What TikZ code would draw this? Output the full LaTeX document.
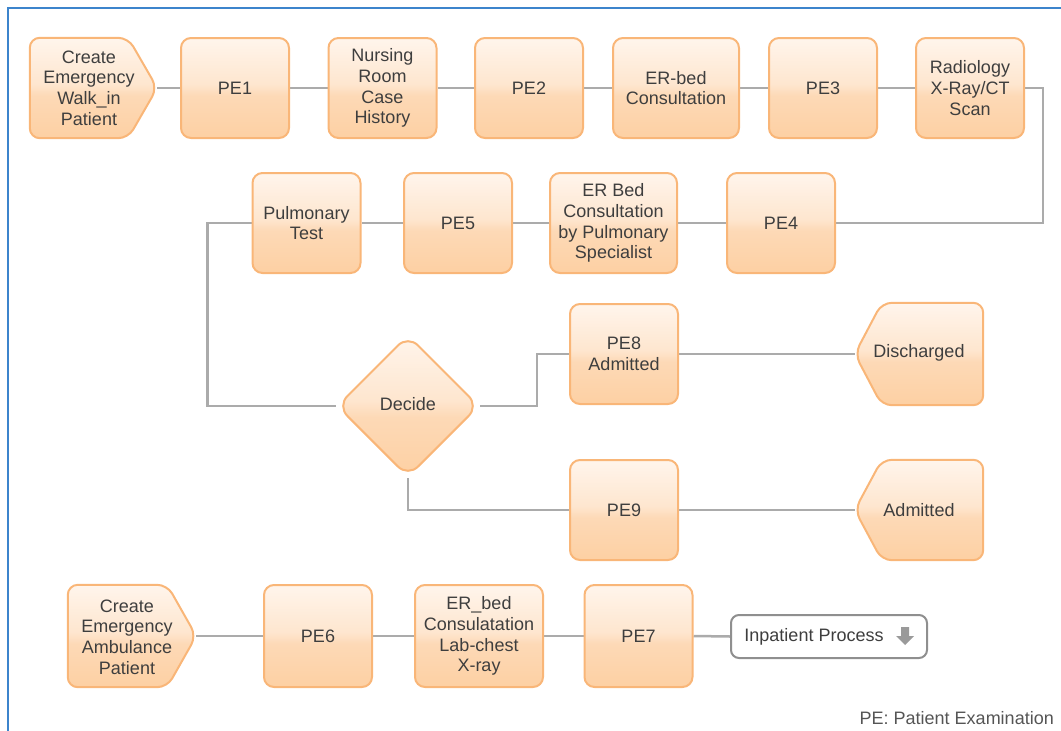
\documentclass[tikz,border=0pt]{standalone}
\usepackage{fontspec}
\setmainfont{Liberation Sans}
\usetikzlibrary{shapes.geometric,backgrounds,calc}

\definecolor{tileTop}{HTML}{FFF5EC}
\definecolor{tileMid}{HTML}{FEE6CF}
\definecolor{tileLow}{HTML}{FDD9B6}
\definecolor{tileBot}{HTML}{FDD0A3}
\definecolor{tileEdge}{HTML}{F9B678}
\definecolor{wire}{HTML}{ABABAB}
\definecolor{ink}{HTML}{3E3E3E}
\definecolor{keyink}{HTML}{555555}
\definecolor{frameblue}{HTML}{3C84CC}
\definecolor{pillEdge}{HTML}{8F8F8F}
\definecolor{icongray}{HTML}{9A9A9A}

% glossy peach fill of the process tiles
\pgfdeclareverticalshading{tileshade}{100bp}{color(0bp)=(tileBot); color(25bp)=(tileBot); color(46bp)=(tileLow); color(52bp)=(tileMid); color(75bp)=(tileTop); color(100bp)=(tileTop)}

\newcommand\tilefont{\fontsize{18pt}{20.7pt}\selectfont}

\tikzset{
  tile/.style={shade, shading=tileshade, draw=tileEdge, line width=2pt, rounded corners=10pt},
  stepbox/.style={tile, rectangle, minimum width=108pt, minimum height=100pt,
    inner sep=2pt, align=center, text=ink, font=\tilefont},
  anchorbox/.style={rectangle, minimum height=100pt, inner sep=0pt},
  tilelabel/.style={align=center, text=ink, font=\tilefont, inner sep=0pt},
  wireline/.style={draw=wire, line width=2.5pt},
}

\begin{document}
\begin{tikzpicture}[x=1pt,y=-1pt]
\useasboundingbox (0,0) rectangle (1061,731);

% frame
\draw[frameblue, line width=2.5pt] (8,731) -- (8,8) -- (1061,8);

% first row
\node[anchorbox, minimum width=127pt] (cw) at (93.5,88) {};
\node[tilelabel] (cwlabel) at (89,88) {Create\\Emergency\\Walk\_in\\Patient};
\node[stepbox] (pe1) at (235,88) {PE1};
\node[stepbox] (nurse) at (382.5,88) {Nursing\\Room\\Case\\History};
\node[stepbox] (pe2) at (529,88) {PE2};
\node[stepbox, minimum width=126pt] (erbed) at (676,88) {ER-bed\\Consultation};
\node[stepbox] (pe3) at (823,88) {PE3};
\node[stepbox] (radio) at (970,88) {Radiology\\X-Ray/CT\\Scan};

% second row
\node[stepbox] (pulm) at (306.5,223) {Pulmonary\\Test};
\node[stepbox] (pe5) at (458,223) {PE5};
\node[stepbox, minimum width=127pt] (erpul) at (613.5,223) {ER Bed\\Consultation\\by Pulmonary\\Specialist};
\node[stepbox] (pe4) at (781,223) {PE4};

% decision branch
\node[tile, rounded corners=14pt, diamond, aspect=1, minimum width=142pt, minimum height=142pt,
      inner sep=0pt, text=ink, font=\tilefont] (dec) at (408,406) {\raisebox{5pt}{Decide}};
\node[stepbox] (pe8) at (624,354) {PE8\\Admitted};
\node[stepbox] (pe9) at (624,510) {PE9};
\node[anchorbox, minimum width=128pt, minimum height=102pt] (disch) at (919,354) {};
\node[tilelabel] (dischlabel) at (919,353) {Discharged};
\node[anchorbox, minimum width=128pt] (adm) at (919,510) {};
\node[tilelabel] (admlabel) at (919,510) {Admitted};

% ambulance row
\node[anchorbox, minimum width=128pt, minimum height=102pt] (ca) at (132,636) {};
\node[tilelabel] (calabel) at (127,637) {Create\\Emergency\\Ambulance\\Patient};
\node[stepbox, minimum height=102pt] (pe6) at (318,636) {PE6};
\node[stepbox, minimum width=128pt, minimum height=102pt] (erlab) at (479,636) {ER\_bed\\Consulatation\\Lab-chest\\X-ray};
\node[stepbox, minimum height=102pt] (pe7) at (638.5,636) {PE7};
\node[draw=pillEdge, line width=2pt, rounded corners=8pt, fill=white, minimum width=196pt,
      minimum height=43pt, inner sep=0pt, text=ink, font=\tilefont] (inp) at (829,636.5)
      {Inpatient Process\kern30pt\relax};
\fill[icongray] ($(inp.east)+(-27,-9.5)$) -- ++(8,0) -- ++(0,9) -- ++(5,0) -- ++(-9,9)
      -- ++(-9,-9) -- ++(5,0) -- cycle;

% legend
\node[anchor=east, inner sep=0pt, text=keyink, font=\tilefont] (key) at (1054,718)
      {PE: Patient Examination};

\begin{scope}[on background layer]
  % connectors
  \draw[wireline] (cw.east) -- (pe1.west);
  \draw[wireline] (pe1.east) -- (nurse.west);
  \draw[wireline] (nurse.east) -- (pe2.west);
  \draw[wireline] (pe2.east) -- (erbed.west);
  \draw[wireline] (erbed.east) -- (pe3.west);
  \draw[wireline] (pe3.east) -- (radio.west);
  \draw[wireline] (radio.east) -- ++(18,0) |- (pe4.east);
  \draw[wireline] (pe4.west) -- (erpul.east);
  \draw[wireline] (erpul.west) -- (pe5.east);
  \draw[wireline] (pe5.west) -- (pulm.east);
  \draw[wireline] (pulm.west) -- ++(-44,0) |- (dec.west);
  \draw[wireline] (dec.east) -- ++(57,0) |- (pe8.west);
  \draw[wireline] (dec.south) |- (pe9.west);
  \draw[wireline] (pe8.east) -- (disch.west);
  \draw[wireline] (pe9.east) -- (adm.west);
  \draw[wireline] (ca.east) -- (pe6.west);
  \draw[wireline] (pe6.east) -- (erlab.west);
  \draw[wireline] (erlab.east) -- (pe7.west);
  \draw[wireline] (pe7.east) -- (inp.west);
  % start tiles pointing right
  \path[tile] (cw.north west) -- ([xshift=-29pt]cw.north east) -- (cw.east)
      -- ([xshift=-29pt]cw.south east) -- (cw.south west) -- cycle;
  \path[tile] (ca.north west) -- ([xshift=-29pt]ca.north east) -- (ca.east)
      -- ([xshift=-29pt]ca.south east) -- (ca.south west) -- cycle;
  % end tiles pointing left
  \path[tile] (disch.north east) -- ([xshift=27pt]disch.north west) -- (disch.west)
      -- ([xshift=27pt]disch.south west) -- (disch.south east) -- cycle;
  \path[tile] (adm.north east) -- ([xshift=27pt]adm.north west) -- (adm.west)
      -- ([xshift=27pt]adm.south west) -- (adm.south east) -- cycle;
\end{scope}
\end{tikzpicture}
\end{document}
